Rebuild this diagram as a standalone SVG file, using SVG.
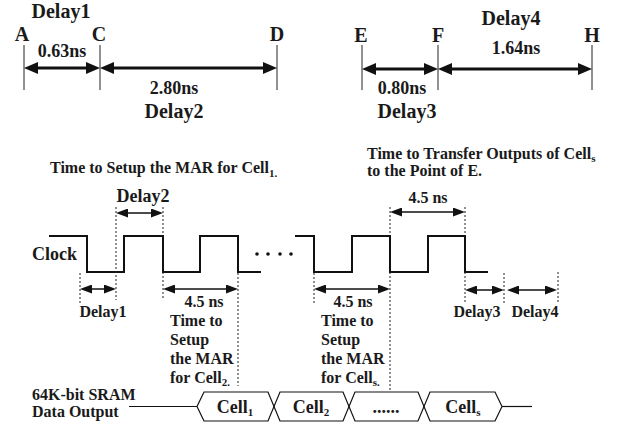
<svg xmlns="http://www.w3.org/2000/svg" width="619" height="427" viewBox="0 0 619 427">
<style>
text{font-family:"Liberation Serif","Times New Roman",serif;font-weight:bold;fill:#1a1a1a}
.l20{font-size:20px}.l18{font-size:18px}.l16{font-size:16px}
.c{text-anchor:middle}
.sub{font-size:11px}
.vl{stroke:#222;stroke-width:1;fill:none}
.dash{stroke:#222;stroke-width:1;stroke-dasharray:2,2;fill:none}
.big{stroke:#111;stroke-width:3;fill:none;marker-start:url(#ahb);marker-end:url(#ahb)}
.thin{stroke:#111;stroke-width:1.5;fill:none;marker-start:url(#ahs);marker-end:url(#ahs)}
.wave{stroke:#111;stroke-width:2;fill:none}
.hex{stroke:#111;stroke-width:1.2;fill:none}
</style>
<defs>
<marker id="ahb" markerUnits="userSpaceOnUse" markerWidth="14" markerHeight="12" refX="0" refY="6" orient="auto-start-reverse"><path d="M0,0 L14,6 L0,12 z" fill="#111"/></marker>
<marker id="ahs" markerUnits="userSpaceOnUse" markerWidth="12" markerHeight="9" refX="0" refY="4.5" orient="auto-start-reverse"><path d="M0,0 L12,4.5 L0,9 z" fill="#111"/></marker>
</defs>

<g id="top-left-scale">
<line class="vl" x1="24" y1="45" x2="24" y2="90"/>
<line class="vl" x1="100" y1="45" x2="100" y2="90"/>
<line class="vl" x1="277" y1="45" x2="277" y2="90"/>
<text class="l20 c" x="61" y="18">Delay1</text>
<text class="l20 c" x="22" y="41">A</text>
<text class="l20 c" x="99" y="41">C</text>
<text class="l20 c" x="277" y="41">D</text>
<text class="l18 c" x="62" y="57">0.63ns</text>
<text class="l18 c" x="174" y="94">2.80ns</text>
<text class="l20 c" x="174" y="118">Delay2</text>
</g>
<g id="top-right-scale">
<line class="vl" x1="362" y1="45" x2="362" y2="90"/>
<line class="vl" x1="438" y1="45" x2="438" y2="90"/>
<line class="vl" x1="592" y1="45" x2="592" y2="90"/>
<text class="l20 c" x="511" y="25">Delay4</text>
<text class="l20 c" x="361" y="42">E</text>
<text class="l20 c" x="438" y="42">F</text>
<text class="l20 c" x="592" y="42">H</text>
<text class="l18 c" x="516" y="54">1.64ns</text>
<text class="l18 c" x="402" y="94">0.80ns</text>
<text class="l20 c" x="407" y="118">Delay3</text>
</g>

<g id="titles">
<text class="l16" x="50" y="173">Time to Setup the MAR for Cell<tspan class="sub" dy="4">1.</tspan></text>
<text class="l16" x="367" y="159">Time to Transfer Outputs of Cell<tspan class="sub" dy="3">s</tspan></text>
<text class="l16" x="367" y="176">to the Point of E.</text>
</g>

<g id="clock">
<text class="l18" x="32" y="260">Clock</text>
<path class="wave" d="M49,236 H87 V272 H124 V236 H163 V272 H200 V236 H238 V272 H261"/>
<g fill="#111"><circle cx="257" cy="254" r="1.8"/><circle cx="268" cy="254" r="1.8"/><circle cx="280" cy="254" r="1.8"/><circle cx="291" cy="254" r="1.8"/></g>
<path class="wave" d="M295,236 H314 V272 H352 V236 H390 V272 H428 V236 H465 V272 H488"/>
</g>

<g id="guides">
<line class="dash" x1="80" y1="273" x2="80" y2="305"/>
<line class="dash" x1="116" y1="207" x2="116" y2="300"/>
<line class="dash" x1="163" y1="207" x2="163" y2="236"/>
<line class="dash" x1="163" y1="272" x2="163" y2="298"/>
<line class="dash" x1="238" y1="273" x2="238" y2="386"/>
<line class="dash" x1="314" y1="273" x2="314" y2="303"/>
<line class="dash" x1="390" y1="207" x2="390" y2="236"/>
<line class="dash" x1="390" y1="272" x2="390" y2="390"/>
<line class="dash" x1="465" y1="207" x2="465" y2="236"/>
<line class="dash" x1="465" y1="272" x2="465" y2="303"/>
<line class="dash" x1="504" y1="273" x2="504" y2="303"/>
<line class="dash" x1="558" y1="272" x2="558" y2="303"/>
</g>

<g id="connectors">
<line class="big" x1="38" y1="68" x2="86" y2="68"/>
<line class="big" x1="114" y1="68" x2="263" y2="68"/>
<line class="big" x1="376" y1="69" x2="424" y2="69"/>
<line class="big" x1="452" y1="69" x2="578" y2="69"/>
<line class="thin" x1="128" y1="213" x2="151" y2="213"/>
<line class="thin" x1="402" y1="212" x2="453" y2="212"/>
<line class="thin" x1="92" y1="289" x2="104" y2="289"/>
<line class="thin" x1="175" y1="289" x2="226" y2="289"/>
<line class="thin" x1="326" y1="289" x2="378" y2="289"/>
<line class="thin" x1="477" y1="290" x2="492" y2="290"/>
<line class="thin" x1="519" y1="290" x2="545" y2="290"/>
</g>

<g id="labels">
<text class="l18 c" x="143" y="202">Delay2</text>
<text class="l16 c" x="428" y="203">4.5 ns</text>
<text class="l16 c" x="103" y="317">Delay1</text>
<text class="l16 c" x="204" y="307">4.5 ns</text>
<text class="l16" x="170" y="326">Time to</text>
<text class="l16" x="170" y="345">Setup</text>
<text class="l16" x="170" y="364">the MAR</text>
<text class="l16" x="170" y="383">for Cell<tspan class="sub" dy="3">2.</tspan></text>
<text class="l16 c" x="353" y="307">4.5 ns</text>
<text class="l16" x="321" y="326">Time to</text>
<text class="l16" x="321" y="345">Setup</text>
<text class="l16" x="321" y="364">the MAR</text>
<text class="l16" x="321" y="383">for Cell<tspan class="sub" dy="3">s.</tspan></text>
<text class="l16 c" x="477" y="317">Delay3</text>
<text class="l16 c" x="535" y="317">Delay4</text>
</g>

<g id="sram-output">
<text class="l16" x="32" y="400">64K-bit SRAM</text>
<text class="l16" x="32" y="417">Data Output</text>
<line class="hex" x1="129" y1="406.5" x2="197" y2="406.5"/>
<polyline class="hex" points="197,406.5 204,392 268,392 280,421 343,421 355,392 418,392 430,421 495,421 502,406.5"/>
<polyline class="hex" points="197,406.5 204,421 268,421 280,392 343,392 355,421 418,421 430,392 495,392 502,406.5"/>
<line class="hex" x1="502" y1="406.5" x2="532" y2="406.5"/>
<text class="l18 c" x="235" y="413">Cell<tspan class="sub" dy="3">1</tspan></text>
<text class="l18 c" x="311" y="413">Cell<tspan class="sub" dy="3">2</tspan></text>
<text class="l18 c" x="386" y="413">......</text>
<text class="l18 c" x="463" y="413">Cell<tspan class="sub" dy="3">s</tspan></text>
</g>
</svg>
